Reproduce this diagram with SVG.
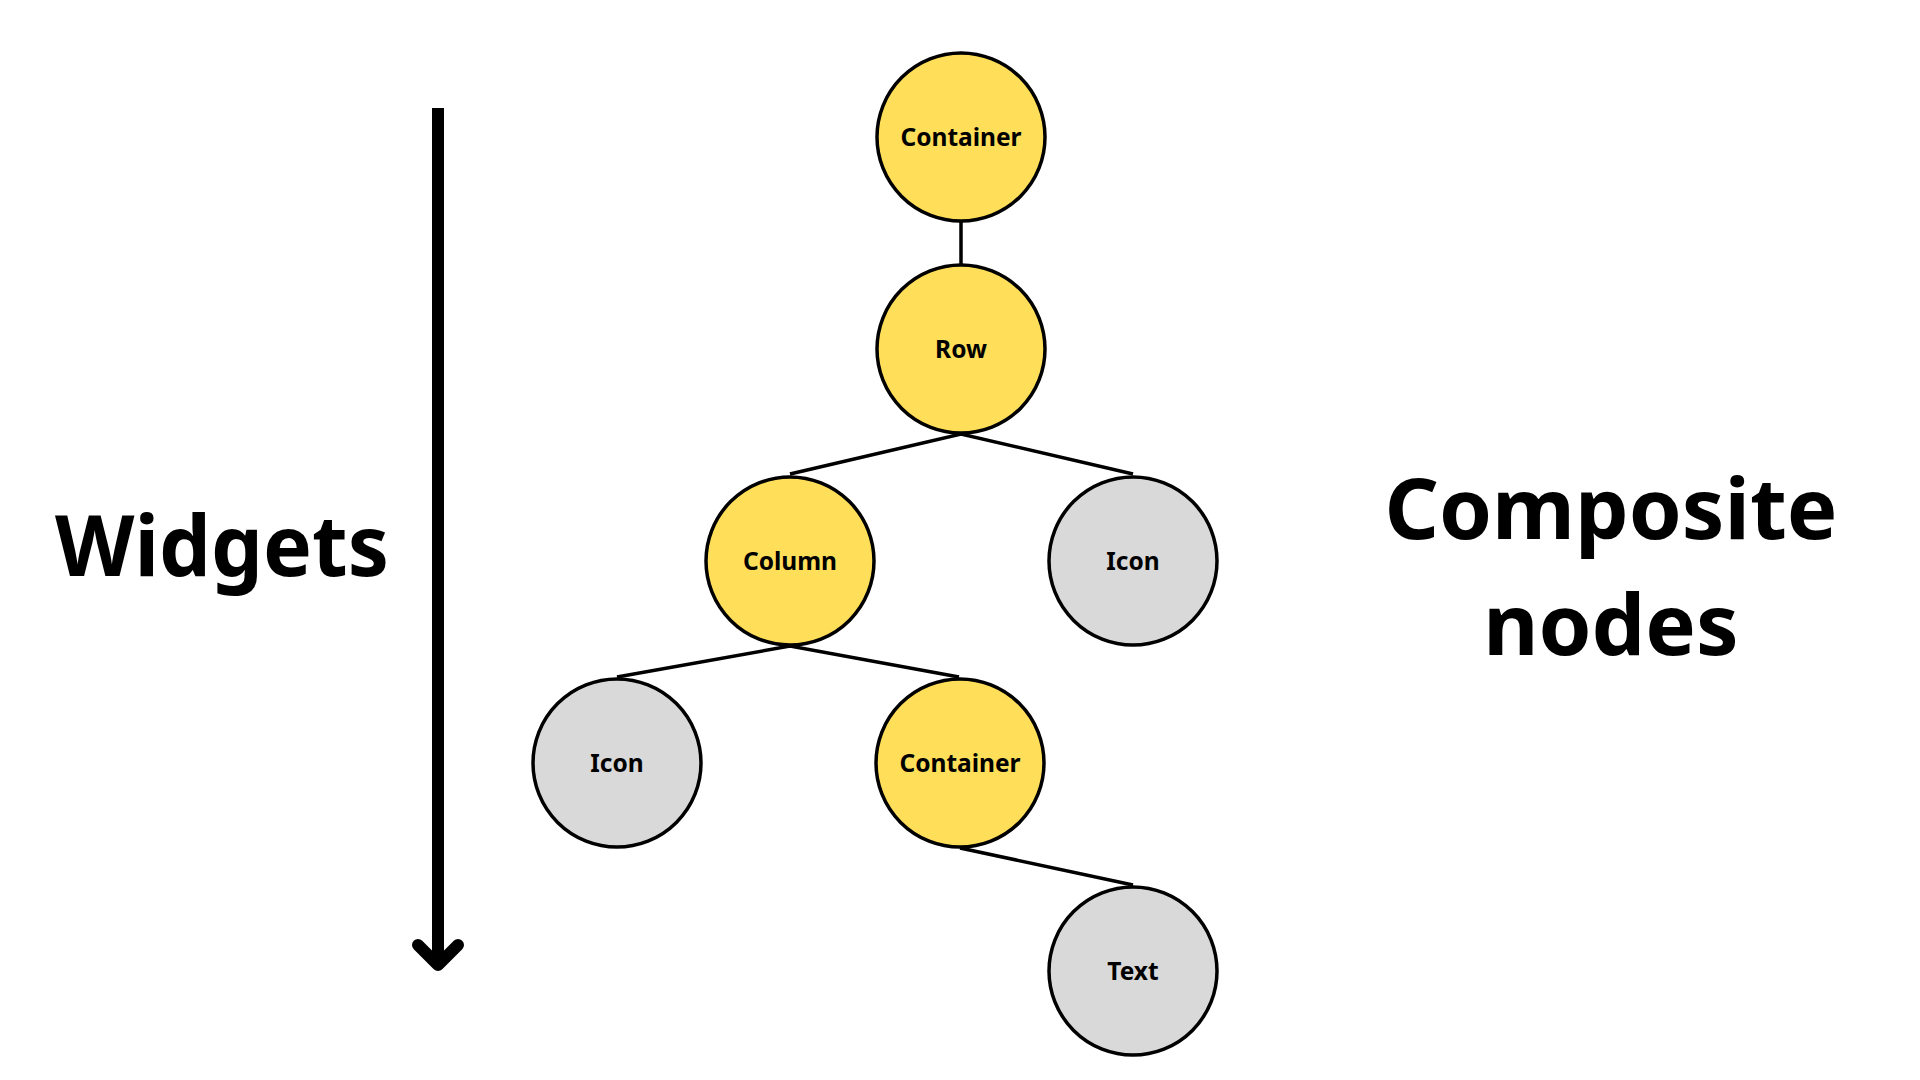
<svg xmlns="http://www.w3.org/2000/svg" width="1920" height="1080" viewBox="0 0 1920 1080">
<style>
.node circle{stroke:#000;stroke-width:3.5}
.comp{fill:#FFDE59}
.leaf{fill:#D9D9D9}
.node text{font-family:"Noto Sans","Open Sans",sans-serif;font-weight:700;font-size:24.5px;fill:#000;text-anchor:middle}
.edge{stroke:#000;stroke-width:3.5;fill:none}
.big{font-family:"Noto Sans","Open Sans",sans-serif;font-weight:700;font-size:85px;fill:#000;text-anchor:middle}
</style>
<rect width="1920" height="1080" fill="#fff"/>
<g id="arrow">
<line x1="438" y1="108" x2="438" y2="962" stroke="#000" stroke-width="12"/>
<polyline points="418,945 438,965 458,945" fill="none" stroke="#000" stroke-width="12" stroke-linecap="round" stroke-linejoin="round"/>
</g>
<text class="big" x="222" y="576" textLength="334" lengthAdjust="spacingAndGlyphs">Widgets</text>
<text class="big" x="1611" y="539">Composite</text>
<text class="big" x="1611" y="655">nodes</text>
<g id="connectors">
<line class="edge" x1="961" y1="221" x2="961" y2="265"/>
<polyline class="edge" points="790,474 961,434 1133,474"/>
<polyline class="edge" points="617,677 790,646 959,677"/>
<line class="edge" x1="960" y1="848" x2="1133" y2="885"/>
</g>
<g id="n-container1" class="node"><circle class="comp" cx="961" cy="137" r="84"/><text x="961" y="146">Container</text></g>
<g id="n-row" class="node"><circle class="comp" cx="961" cy="349" r="84"/><text x="961" y="358">Row</text></g>
<g id="n-column" class="node"><circle class="comp" cx="790" cy="561" r="84"/><text x="790" y="570">Column</text></g>
<g id="n-icon1" class="node"><circle class="leaf" cx="1133" cy="561" r="84"/><text x="1133" y="570">Icon</text></g>
<g id="n-icon2" class="node"><circle class="leaf" cx="617" cy="763" r="84"/><text x="617" y="772">Icon</text></g>
<g id="n-container2" class="node"><circle class="comp" cx="960" cy="763" r="84"/><text x="960" y="772">Container</text></g>
<g id="n-text" class="node"><circle class="leaf" cx="1133" cy="971" r="84"/><text x="1133" y="980">Text</text></g>
</svg>
